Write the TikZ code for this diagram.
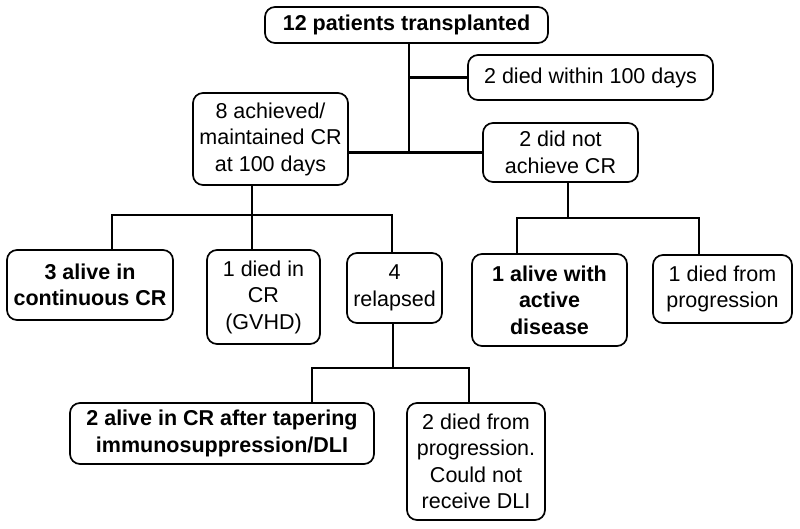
\documentclass[tikz,border=0pt]{standalone}
\usepackage{fontspec}
\setmainfont{Liberation Sans}
\usepackage{tikz}

\tikzset{
  box/.style={draw, line width=1.7pt, rounded corners=10pt, align=center,
    inner sep=0pt, font=\fontsize{21.5}{26.5}\selectfont},
  boldbox/.style={box, font=\fontsize{21.5}{26.5}\selectfont\bfseries},
  link/.style={line width=2.4pt}
}

\begin{document}
\begin{tikzpicture}[x=1pt,y=-1pt]
                \useasboundingbox (0,0) rectangle (800,529);

                % first level
                \node[boldbox, minimum width=283pt, minimum height=36pt] (top) at (406.5,25) {12 patients transplanted};
                \node[box, minimum width=245pt, minimum height=45pt] (died) at (590.5,77.5) {2 died within 100 days};
                \node[box, minimum width=155pt, minimum height=92pt] (ach) at (270.5,139) {8 achieved/\\maintained CR\\at 100 days};
                \node[box, minimum width=155pt, minimum height=59pt] (notach) at (560.5,152.5) {2 did not\\achieve CR};

                % second level
                \node[boldbox, minimum width=166pt, minimum height=70pt] (cont) at (90,285) {3 alive in\\continuous CR};
                \node[box, minimum width=113pt, minimum height=94pt] (gvhd) at (263.5,297) {1 died in\\CR\\(GVHD)};
                \node[box, minimum width=95pt, minimum height=70pt] (relapse) at (394.5,288) {4\\relapsed};
                \node[boldbox, minimum width=155pt, minimum height=92pt] (alive) at (549.5,300) {1 alive with\\active\\disease};
                \node[box, minimum width=139pt, minimum height=68pt] (prog1) at (722.5,289) {1 died from\\progression};

                % after relapse
                \node[boldbox, minimum width=304pt, minimum height=61pt] (taper) at (222,433.5) {2 alive in CR after tapering\\immunosuppression/DLI};
                \node[box, minimum width=138pt, minimum height=117pt] (prog2) at (476,461.5) {2 died from\\progression.\\Could not\\receive DLI};

                % junctions
                \coordinate (j0) at (409,153);
                \coordinate (j1) at (252,215);
                \coordinate (c1) at (112,215);
                \coordinate (c2) at (392,215);
                \coordinate (j2) at (568,218);
                \coordinate (d1) at (517,218);
                \coordinate (d2) at (699,218);
                \coordinate (j3) at (393,368);
                \coordinate (e1) at (312,368);
                \coordinate (e2) at (469,368);

                \draw[link] (top.south -| j0) -- (j0);
                \draw[link] (died.west -| j0) -- (died.west);
                \draw[link] (ach.east |- notach.west) -- (notach.west);

                \draw[link] (ach.south -| j1) -- (gvhd.north -| j1);
                \draw[link] (cont.north -| c1) -- (c1) -- (c2) -- (relapse.north -| c2);

                \draw[link] (notach.south -| j2) -- (j2);
                \draw[link] (alive.north -| d1) -- (d1) -- (d2) -- (prog1.north -| d2);

                \draw[link] (relapse.south -| j3) -- (j3);
                \draw[link] (taper.north -| e1) -- (e1) -- (e2) -- (prog2.north -| e2);
            \end{tikzpicture}
\end{document}
